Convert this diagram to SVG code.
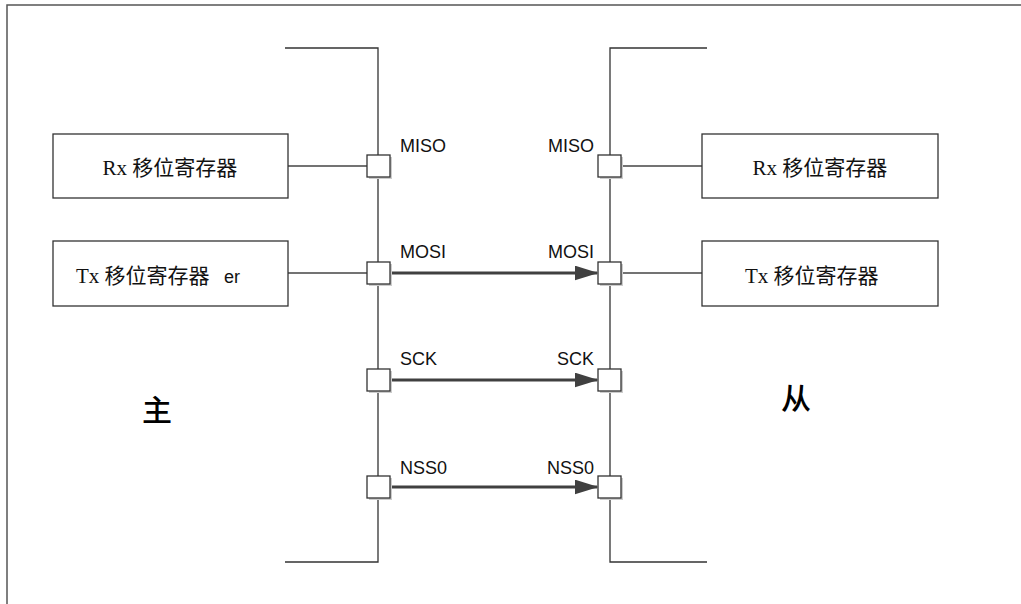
<svg xmlns="http://www.w3.org/2000/svg" width="1021" height="604" viewBox="0 0 1021 604">
<style>
.frame{fill:none;stroke:#555;stroke-width:1.5}
.bus{fill:none;stroke:#333;stroke-width:1.3}
.wire{fill:none;stroke:#444;stroke-width:1.3}
.box{fill:#fff;stroke:#333;stroke-width:1.3}
.pin{fill:#fff;stroke:#333;stroke-width:1.3}
.pinsh{fill:#ccc}
.lbl{font-family:"Liberation Sans",Arial,sans-serif;font-size:18px;fill:#111}
.reg{font-family:"Liberation Serif","Noto Sans CJK SC",serif;font-size:21px;fill:#111}
.big{font-family:"Liberation Serif","Noto Sans CJK SC",serif;font-size:30px;font-weight:500;fill:#000}
.arr{fill:none;stroke:#404040;stroke-width:3}
</style>
<defs>
<marker id="ah" markerWidth="8" markerHeight="5" refX="7.5" refY="2.5" orient="auto" markerUnits="strokeWidth">
<path d="M0,0 L8,2.5 L0,5 z" fill="#404040"/>
</marker>
</defs>
<rect width="1021" height="604" fill="#fff"/>
<path class="frame" d="M7,604 V5 H1021"/>
<g id="master-bus">
<path class="bus" d="M285,48 H378 V562 H285"/>
</g>
<g id="slave-bus">
<path class="bus" d="M707,48 H610 V562 H707"/>
</g>
<g id="connectors">
<line class="wire" x1="288" y1="166" x2="367" y2="166"/>
<line class="wire" x1="288" y1="273" x2="367" y2="273"/>
<line class="wire" x1="621" y1="166" x2="702" y2="166"/>
<line class="wire" x1="621" y1="273" x2="702" y2="273"/>
<line class="arr" x1="391" y1="273" x2="597" y2="273" marker-end="url(#ah)"/>
<line class="arr" x1="391" y1="380" x2="597" y2="380" marker-end="url(#ah)"/>
<line class="arr" x1="391" y1="487" x2="597" y2="487" marker-end="url(#ah)"/>
</g>
<g id="master-rx">
<rect class="box" x="53" y="134" width="235" height="64"/>
<text class="reg" x="170" y="175" text-anchor="middle">Rx 移位寄存器</text>
</g>
<g id="master-tx">
<rect class="box" x="53" y="241" width="235" height="65"/>
<text class="reg" x="76" y="283">Tx 移位寄存器</text>
<text class="lbl" x="224" y="283">er</text>
</g>
<g id="slave-rx">
<rect class="box" x="702" y="134" width="236" height="64"/>
<text class="reg" x="820" y="175" text-anchor="middle">Rx 移位寄存器</text>
</g>
<g id="slave-tx">
<rect class="box" x="702" y="241" width="236" height="65"/>
<text class="reg" x="745" y="283">Tx 移位寄存器</text>
</g>
<g id="master-pins">
<rect class="pinsh" x="369" y="157" width="23" height="22"/>
<rect class="pin" x="367" y="155" width="23" height="22"/>
<rect class="pinsh" x="369" y="264" width="23" height="22"/>
<rect class="pin" x="367" y="262" width="23" height="22"/>
<rect class="pinsh" x="369" y="371" width="23" height="22"/>
<rect class="pin" x="367" y="369" width="23" height="22"/>
<rect class="pinsh" x="369" y="478" width="23" height="22"/>
<rect class="pin" x="367" y="476" width="23" height="22"/>
<text class="lbl" x="400" y="152">MISO</text>
<text class="lbl" x="400" y="258">MOSI</text>
<text class="lbl" x="400" y="365">SCK</text>
<text class="lbl" x="400" y="474">NSS0</text>
</g>
<g id="slave-pins">
<rect class="pinsh" x="600" y="157" width="23" height="22"/>
<rect class="pin" x="598" y="155" width="23" height="22"/>
<rect class="pinsh" x="600" y="264" width="23" height="22"/>
<rect class="pin" x="598" y="262" width="23" height="22"/>
<rect class="pinsh" x="600" y="371" width="23" height="22"/>
<rect class="pin" x="598" y="369" width="23" height="22"/>
<rect class="pinsh" x="600" y="478" width="23" height="22"/>
<rect class="pin" x="598" y="476" width="23" height="22"/>
<text class="lbl" x="594" y="152" text-anchor="end">MISO</text>
<text class="lbl" x="594" y="258" text-anchor="end">MOSI</text>
<text class="lbl" x="594" y="365" text-anchor="end">SCK</text>
<text class="lbl" x="594" y="474" text-anchor="end">NSS0</text>
</g>
<g id="master-label">
<text class="big" x="157" y="421" text-anchor="middle">主</text>
</g>
<g id="slave-label">
<text class="big" x="796" y="409" text-anchor="middle">从</text>
</g>
</svg>
